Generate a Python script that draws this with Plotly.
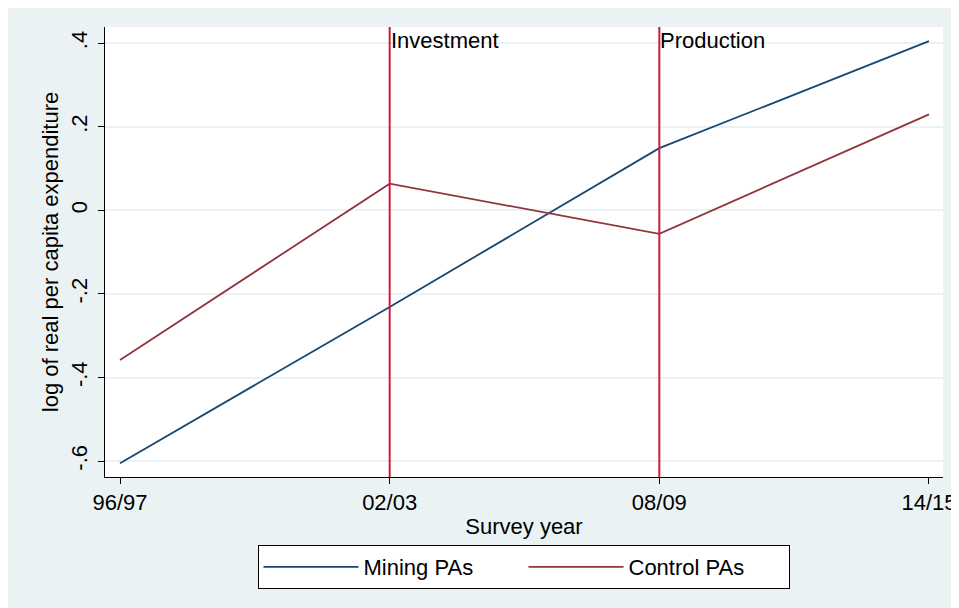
import plotly.graph_objects as go

# ---- data ----
survey_years = ["96/97", "02/03", "08/09", "14/15"]
mining_pas = [-0.605, -0.231, 0.149, 0.405]
control_pas = [-0.358, 0.064, -0.056, 0.230]
event_years = ["02/03", "08/09"]
event_labels = ["Investment", "Production"]
y_tick_vals = [-0.6, -0.4, -0.2, 0.0, 0.2, 0.4]
y_tick_text = ["-.6", "-.4", "-.2", "0", ".2", ".4"]

FONT = "Liberation Sans, Arial, sans-serif"
BG = "#eaf2f3"

x_idx = list(range(len(survey_years)))

W, H = 959, 602
l, r, t, b = 97, 24, 19, 133
ph = H - t - b


def px_y(y):
    return (H - b - y) / ph


fig = go.Figure()
fig.add_trace(go.Scatter(x=x_idx, y=mining_pas, mode="lines", name="Mining PAs",
                         line=dict(color="#1a476f", width=1.8)))
fig.add_trace(go.Scatter(x=x_idx, y=control_pas, mode="lines", name="Control PAs",
                         line=dict(color="#90353b", width=1.8)))

for ev, lab in zip(event_years, event_labels):
    xi = survey_years.index(ev)
    fig.add_shape(type="line", xref="x", yref="paper", x0=xi, x1=xi, y0=0, y1=1,
                  line=dict(color="#d0183c", width=2), layer="above")
    fig.add_annotation(x=xi, xref="x", y=px_y(33), yref="paper", text=lab,
                       showarrow=False, xanchor="left", yanchor="middle", xshift=-1,
                       font=dict(family=FONT, size=22, color="black"))

fig.update_layout(
    width=W, height=H,
    margin=dict(l=l, r=r, t=t, b=b, autoexpand=False),
    paper_bgcolor=BG, plot_bgcolor="white",
    font=dict(family=FONT, size=22, color="black"),
    showlegend=True,
    legend=dict(orientation="h", x=(515.5 - l) / (W - l - r), xanchor="center",
                y=px_y(537), yanchor="top",
                bgcolor="white", bordercolor="black", borderwidth=1,
                font=dict(family=FONT, size=22, color="black"),
                entrywidth=155, entrywidthmode="pixels", itemwidth=95),
)
fig.update_xaxes(
    range=[-0.0557, 3.052], tickvals=x_idx, ticktext=survey_years,
    automargin=False,
    showgrid=False, zeroline=False, showline=True, linecolor="black", linewidth=1,
    ticks="outside", ticklen=6, tickcolor="black",
    tickfont=dict(family=FONT, size=22),
    title=dict(text="Survey year", font=dict(family=FONT, size=22), standoff=4),
)
fig.update_yaxes(
    range=[-0.638, 0.439], tickvals=y_tick_vals, ticktext=y_tick_text,
    tickangle=-90, ticklabelstandoff=2, automargin=False,
    showgrid=True, gridcolor=BG, gridwidth=1.5, zeroline=False,
    showline=True, linecolor="black", linewidth=1,
    ticks="outside", ticklen=6, tickcolor="black",
    tickfont=dict(family=FONT, size=22),
    title=dict(text="log of real per capita expenditure", font=dict(family=FONT, size=22), standoff=2),
)

fig.write_html("out.html")
